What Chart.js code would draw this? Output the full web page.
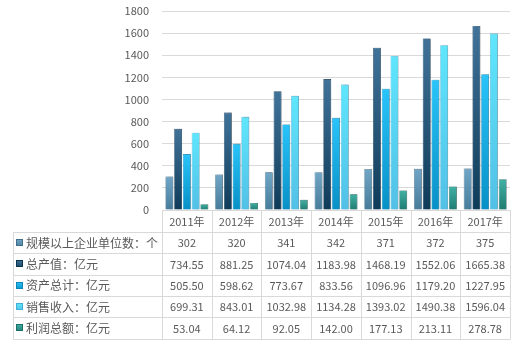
<!DOCTYPE html>
<html>
<head>
<meta charset="utf-8">
<script src="https://cdn.jsdelivr.net/npm/chart.js@4.4.1/dist/chart.umd.min.js"></script>
<style>
    html, body { margin: 0; padding: 0; background: #fff; }
    #wrap { width: 518px; height: 344px; position: relative; }
</style>
</head>
<body>
<div id="wrap"><canvas id="chart"></canvas></div>
<script>
    // --- Data ---
    const years = ['2011年', '2012年', '2013年', '2014年', '2015年', '2016年', '2017年'];
    const seriesNames = ['规模以上企业单位数：个', '总产值：亿元', '资产总计：亿元', '销售收入：亿元', '利润总额：亿元'];
    const units = [302, 320, 341, 342, 371, 372, 375];
    const output = [734.55, 881.25, 1074.04, 1183.98, 1468.19, 1552.06, 1665.38];
    const assets = [505.50, 598.62, 773.67, 833.56, 1096.96, 1179.20, 1227.95];
    const sales = [699.31, 843.01, 1032.98, 1134.28, 1393.02, 1490.38, 1596.04];
    const profit = [53.04, 64.12, 92.05, 142.00, 177.13, 213.11, 278.78];
    const yTicks = [0, 200, 400, 600, 800, 1000, 1200, 1400, 1600, 1800];

    const allSeries = [units, output, assets, sales, profit];

    // top / bottom colours of each bar gradient, plus outline
    const palette = [
        { top: '#72a6c6', bottom: '#477b9a', line: '#3f6f8c' },
        { top: '#41739a', bottom: '#0e3b58', line: '#0c3350' },
        { top: '#29c4fa', bottom: '#0890c6', line: '#0a86b8' },
        { top: '#5fe6fd', bottom: '#52c0e6', line: '#3fb0d8' },
        { top: '#42b0a4', bottom: '#1e7b71', line: '#1b6f66' }
    ];

    const gridColor = '#d9d9d9';
    const textColor = '#595959';
    const cjkFont = '"Noto Sans CJK SC", "Noto Sans", sans-serif';

    function barGradient(i) {
        return function (ctx) {
            const chart = ctx.chart;
            const c = palette[i];
            const y = chart.scales.y;
            if (!chart.chartArea || !y || ctx.raw == null) return c.top;
            const top = y.getPixelForValue(ctx.raw);
            const bottom = y.getPixelForValue(0);
            if (!isFinite(top) || !isFinite(bottom) || bottom - top < 1) return c.top;
            const g = chart.ctx.createLinearGradient(0, top, 0, bottom);
            g.addColorStop(0, c.top);
            g.addColorStop(1, c.bottom);
            return g;
        };
    }

    // soft shadow to the right of the bars
    const barShadow = {
        id: 'barShadow',
        beforeDatasetsDraw(chart) {
            const ctx = chart.ctx;
            ctx.save();
            ctx.shadowColor = 'rgba(0,0,0,0.28)';
            ctx.shadowOffsetX = 1.5;
            ctx.shadowOffsetY = 0;
            ctx.shadowBlur = 2;
        },
        afterDatasetsDraw(chart) {
            chart.ctx.restore();
        }
    };

    // data table under the plot, columns aligned on the category scale
    const dataTable = {
        id: 'dataTable',
        afterDraw(chart) {
            const ctx = chart.ctx;
            const x = chart.scales.x;
            const area = chart.chartArea;
            const tableLeft = 13;
            const headerH = 22;
            const rowH = 21.3;
            const top = area.bottom;
            const rowsTop = top + headerH;
            const bottom = rowsTop + rowH * seriesNames.length;
            const step = (area.right - area.left) / years.length;

            ctx.save();
            ctx.strokeStyle = gridColor;
            ctx.lineWidth = 1;

            // horizontal lines
            for (let r = 0; r <= seriesNames.length; r++) {
                const yy = Math.round(rowsTop + r * rowH) + 0.5;
                ctx.beginPath();
                ctx.moveTo(tableLeft, yy);
                ctx.lineTo(area.right, yy);
                ctx.stroke();
            }
            // vertical lines
            ctx.beginPath();
            ctx.moveTo(tableLeft + 0.5, Math.round(rowsTop) + 0.5);
            ctx.lineTo(tableLeft + 0.5, Math.round(bottom) + 0.5);
            ctx.stroke();
            for (let c = 0; c <= years.length; c++) {
                const xx = Math.round(area.left + c * step) + 0.5;
                ctx.beginPath();
                ctx.moveTo(xx, top);
                ctx.lineTo(xx, Math.round(bottom) + 0.5);
                ctx.stroke();
            }

            ctx.fillStyle = textColor;
            ctx.textBaseline = 'middle';
            ctx.textAlign = 'center';

            // header
            ctx.font = '11px ' + cjkFont;
            years.forEach((yr, i) => {
                ctx.fillText(yr, x.getPixelForValue(i), top + headerH / 2 + 0.5);
            });

            // rows
            seriesNames.forEach((name, r) => {
                const cy = rowsTop + r * rowH + rowH / 2 + 0.5;
                const c = palette[r];
                const g = ctx.createLinearGradient(0, cy - 4, 0, cy + 4);
                g.addColorStop(0, c.top);
                g.addColorStop(1, c.bottom);
                ctx.fillStyle = g;
                ctx.fillRect(16, Math.round(cy - 4), 7, 7);
                ctx.strokeStyle = c.line;
                ctx.strokeRect(16.5, Math.round(cy - 4) + 0.5, 6, 6);

                ctx.fillStyle = textColor;
                ctx.textAlign = 'left';
                ctx.font = '12px ' + cjkFont;
                ctx.fillText(name, 26, cy);

                ctx.textAlign = 'center';
                ctx.font = '11px ' + cjkFont;
                allSeries[r].forEach((v, i) => {
                    const txt = r === 0 ? String(v) : v.toFixed(2);
                    ctx.fillText(txt, x.getPixelForValue(i), cy);
                });
            });
            ctx.restore();
        }
    };

    const datasets = allSeries.map((data, i) => ({
        label: seriesNames[i],
        data: data,
        backgroundColor: barGradient(i),
        borderColor: palette[i].line,
        borderWidth: 0.6,
        categoryPercentage: 0.88,
        barPercentage: 0.9
    }));

    new Chart(document.getElementById('chart'), {
        type: 'bar',
        data: { labels: years, datasets: datasets },
        plugins: [barShadow, dataTable],
        options: {
            responsive: true,
            maintainAspectRatio: false,
            animation: false,
            layout: { padding: { top: 11, right: 8, bottom: 134, left: 0 } },
            plugins: {
                legend: { display: false },
                tooltip: { enabled: false }
            },
            scales: {
                x: {
                    grid: { display: false },
                    ticks: { display: false },
                    border: { display: true, color: gridColor },
                    afterFit(scale) { scale.height = 0; }
                },
                y: {
                    min: yTicks[0],
                    max: yTicks[yTicks.length - 1],
                    afterBuildTicks(scale) { scale.ticks = yTicks.map(v => ({ value: v })); },
                    grid: { color: gridColor, drawTicks: false },
                    border: { display: false },
                    ticks: {
                        color: textColor,
                        padding: 13,
                        font: { size: 11, family: cjkFont },
                        callback: v => String(v)
                    },
                    afterFit(scale) {
                        scale.width = 162;
                        scale.paddingTop = 0;
                        scale.paddingBottom = 0;
                    }
                }
            }
        }
    });
</script>
</body>
</html>
